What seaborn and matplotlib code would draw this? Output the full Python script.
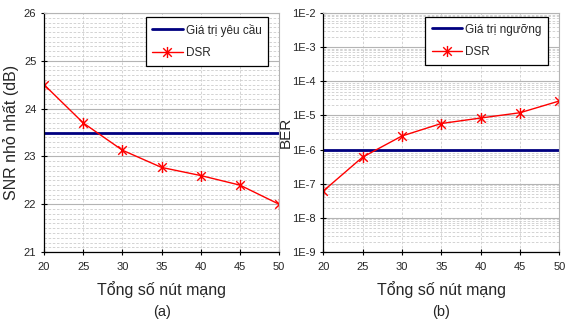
import numpy as np
import pandas as pd
import matplotlib
matplotlib.use('Agg')
import matplotlib.pyplot as plt
from matplotlib.path import Path
from matplotlib.ticker import MultipleLocator, LogLocator, FuncFormatter, NullFormatter
import seaborn as sns

# data
nodes = [20, 25, 30, 35, 40, 45, 50]
snr_dsr = [24.5, 23.7, 23.13, 22.77, 22.6, 22.4, 22.0]
snr_required = 23.5
ber_dsr = [6.1e-8, 6.0e-7, 2.5e-6, 5.8e-6, 8.4e-6, 1.2e-5, 2.65e-5]
ber_threshold = 1e-6

sns.set_theme(style='white')
plt.rcParams['font.family'] = ['Liberation Sans', 'DejaVu Sans']

# excel-like star marker: x plus vertical bar
star = Path([(-1, -1), (1, 1), (-1, 1), (1, -1), (0, -1.3), (0, 1.3)],
            [Path.MOVETO, Path.LINETO, Path.MOVETO, Path.LINETO, Path.MOVETO, Path.LINETO])

fig = plt.figure(figsize=(5.65, 3.24), dpi=100)
ax_a = fig.add_axes([0.078, 0.222, 0.416, 0.738])
ax_b = fig.add_axes([0.572, 0.222, 0.418, 0.738])

df_snr = pd.DataFrame({'nodes': nodes, 'val': snr_dsr})
df_ber = pd.DataFrame({'nodes': nodes, 'val': ber_dsr})


def style_axes(ax):
    ax.set_facecolor('white')
    ax.grid(which='major', axis='y', color='#b4b4b4', lw=0.8, ls='-')
    ax.grid(which='minor', axis='y', color='#cccccc', lw=0.6, ls=(0, (3, 2)))
    ax.grid(which='major', axis='x', color='#cccccc', lw=0.6, ls=(0, (3, 2)))
    for s in ['top', 'right']:
        ax.spines[s].set_color('#b4b4b4')
        ax.spines[s].set_linewidth(0.8)
    for s in ['left', 'bottom']:
        ax.spines[s].set_color('black')
        ax.spines[s].set_linewidth(0.9)
    ax.tick_params(axis='both', which='major', direction='inout', length=5,
                   width=0.8, color='black', labelsize=8, pad=3,
                   bottom=True, left=True)
    ax.tick_params(axis='x', which='major', pad=5)
    ax.tick_params(axis='both', which='minor', length=0)
    ax.set_xlim(20, 50)
    ax.xaxis.set_major_locator(MultipleLocator(5))
    ax.set_xlabel('Tổng số nút mạng', fontsize=11.5)
    ax.xaxis.set_label_coords(0.5, -0.155)
    ax.xaxis.label.set_va('center')


# (a) SNR
ax_a.axhline(snr_required, color='#000080', lw=2, label='Giá trị yêu cầu')
sns.lineplot(data=df_snr, x='nodes', y='val', ax=ax_a, color='red', lw=1,
             marker=star, markersize=8, markeredgecolor='red', markeredgewidth=1,
             label='DSR')
style_axes(ax_a)
ax_a.set_ylim(21, 26)
ax_a.yaxis.set_major_locator(MultipleLocator(1))
ax_a.yaxis.set_minor_locator(MultipleLocator(0.1))
ax_a.set_ylabel('SNR nhỏ nhất (dB)', fontsize=11.5)
ax_a.yaxis.set_label_coords(-0.14, 0.5)
ax_a.yaxis.label.set_va('center')

# (b) BER
ax_b.axhline(ber_threshold, color='#000080', lw=2, label='Giá trị ngưỡng')
sns.lineplot(data=df_ber, x='nodes', y='val', ax=ax_b, color='red', lw=1,
             marker=star, markersize=8, markeredgecolor='red', markeredgewidth=1,
             label='DSR')
ax_b.set_yscale('log')
style_axes(ax_b)
ax_b.set_ylim(1e-9, 1e-2)
ax_b.yaxis.set_major_locator(LogLocator(base=10, numticks=10))
ax_b.yaxis.set_minor_locator(LogLocator(base=10, subs=np.arange(2, 10), numticks=20))
ax_b.yaxis.set_major_formatter(FuncFormatter(lambda v, p: f'1E{int(round(np.log10(v)))}'))
ax_b.yaxis.set_minor_formatter(NullFormatter())
ax_b.set_ylabel('BER', fontsize=11)
ax_b.yaxis.set_label_coords(-0.16, 0.5)
ax_b.yaxis.label.set_va('center')

for ax, letter in [(ax_a, '(a)'), (ax_b, '(b)')]:
    leg = ax.legend(loc='upper right', bbox_to_anchor=(0.953, 0.983),
                    borderaxespad=0, fontsize=8.5, frameon=True, fancybox=False,
                    framealpha=1, edgecolor='black', borderpad=0.55,
                    labelspacing=0.9, handlelength=2.6, handletextpad=0.25)
    leg.get_frame().set_linewidth(0.9)
    ax.text(0.5, -0.251, letter, transform=ax.transAxes, ha='center', va='center',
            fontsize=10.5)

fig.savefig('out.png', dpi=100)
